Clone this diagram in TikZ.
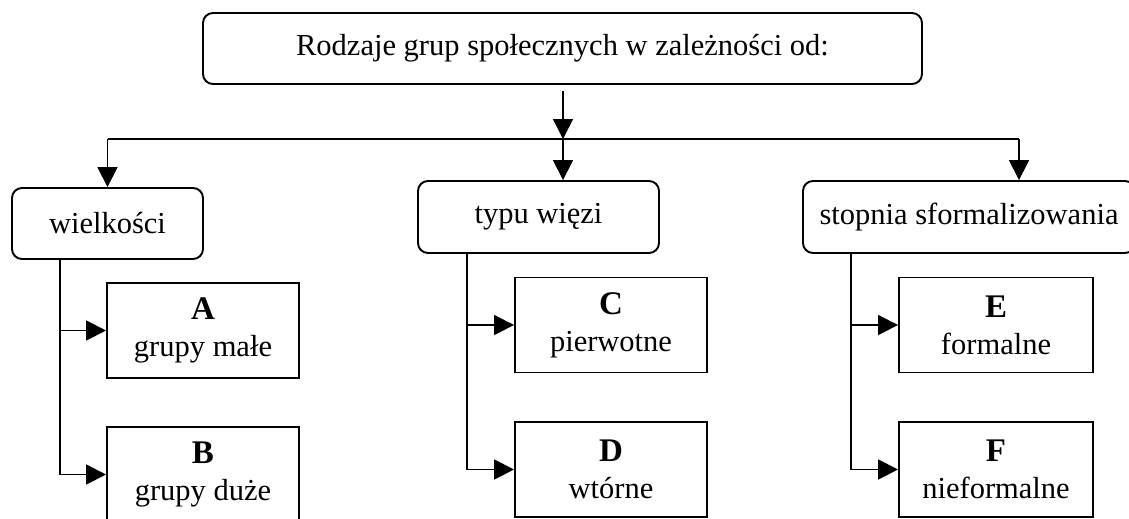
\documentclass[tikz,border=0pt]{standalone}
\usepackage{fontspec}
\setmainfont{Liberation Serif}
\usetikzlibrary{arrows.meta}
\newcommand{\bigletter}[1]{{\fontsize{33}{37}\selectfont\textbf{#1}}}
\begin{document}
\begin{tikzpicture}[x=1pt,y=1pt,
  every node/.style={font=\fontsize{30.5}{37}\selectfont, inner sep=0pt, align=center},
  rbox/.style={draw, line width=1.9pt, rounded corners=10pt},
  sbox/.style={draw, line width=1.9pt, minimum width=192pt, minimum height=95pt},
  conn/.style={line width=1.7pt},
  arr/.style={conn, -{Triangle[length=20pt,width=20pt]}}]
\useasboundingbox (0,0) rectangle (1129,-519);
\clip (0,0) rectangle (1129,-519);
% top
\node[rbox, minimum width=719pt, minimum height=71pt] (top) at (562.5,-48.5) {Rodzaje grup społecznych w zależności od:};
% second level
\node[rbox, minimum width=191pt, minimum height=71pt] (wiel) at (107.5,-223.5) {wielkości};
\node[rbox, minimum width=241pt, minimum height=72pt] (typ) at (538.5,-217) {typu więzi};
\node[rbox, minimum width=332pt, minimum height=72pt] (stop) at (969,-217) {stopnia sformalizowania};
% third level
\node[sbox] (A) at (203,-330.5) {\bigletter{A}\\grupy małe};
\node[sbox] (B) at (203,-474.5) {\bigletter{B}\\grupy duże};
\node[sbox] (C) at (611,-325) {\bigletter{C}\\pierwotne};
\node[sbox] (D) at (611,-469.5) {\bigletter{D}\\wtórne};
\node[sbox, minimum width=194pt] (E) at (996,-325) {\bigletter{E}\\formalne};
\node[sbox, minimum width=194pt] (F) at (996,-469.5) {\bigletter{F}\\nieformalne};
% junctions
\coordinate (j) at (563,-139);
\coordinate (jr) at (1019,-139);
\coordinate (wl) at (60,-259);
\coordinate (tl) at (467,-253);
\coordinate (sl) at (851,-253);
% connectors
\draw[arr, shorten <=6pt] (top.south -| j) -- (j);
\draw[conn] (wiel.north |- j) -- (jr);
\draw[arr] (wiel.north |- j) -- (wiel.north);
\draw[arr] (j) -- (j |- typ.north);
\draw[arr] (jr) -- (jr |- stop.north);
\draw[arr] (wl) |- (A.west);
\draw[arr] (wl) |- (B.west);
\draw[arr] (tl) |- (C.west);
\draw[arr] (tl) |- (D.west);
\draw[arr] (sl) |- (E.west);
\draw[arr] (sl) |- (F.west);
\end{tikzpicture}
\end{document}
